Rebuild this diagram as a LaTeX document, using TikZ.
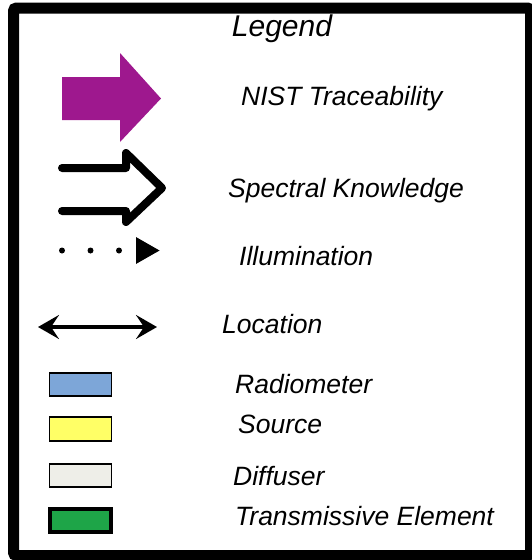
\documentclass[tikz,border=0pt]{standalone}
\usepackage{fontspec}
\setmainfont{Liberation Sans}
\usepackage{xcolor}
\usetikzlibrary{arrows.meta,positioning,calc}
\definecolor{nistpurple}{RGB}{158,24,142}
\definecolor{radioblue}{RGB}{125,166,216}
\definecolor{srcyellow}{RGB}{255,255,102}
\definecolor{diffgrey}{RGB}{238,238,232}
\definecolor{transgreen}{RGB}{30,165,72}

\begin{document}
\begin{tikzpicture}[x=1pt, y=-1pt, font=\fontsize{26.5}{30}\selectfont\itshape]
  \tikzset{lbl/.style={anchor=base west, inner sep=0pt},
           swatch/.style={draw, line width=1.6pt, minimum width=62pt, minimum height=23pt, inner sep=0pt}}
  \useasboundingbox (0,0) rectangle (531,560);
  % frame
  \draw[line width=11pt, rounded corners=3pt] (13.5,8) rectangle (530.5,555.5);
  \node[lbl, anchor=base, font=\fontsize{30}{34}\selectfont\itshape] (title) at (282,36) {Legend};
  % NIST traceability: filled arrow
  \fill[nistpurple] (62,77) -- (120,77) -- (120,53) -- (161,98.5) -- (120,142) -- (120,120) -- (62,120) -- cycle;
  \node[lbl] (nist) at (241,105) {NIST Traceability};
  % spectral knowledge: open arrow
  \draw[line width=8pt, line cap=round, line join=round]
    (62,168) -- (126,168) -- (126,153) -- (162,188) -- (126,222) -- (126,211) -- (62,211);
  \node[lbl] (spec) at (228,197) {Spectral Knowledge};
  % illumination: dotted arrow
  \coordinate (illumL) at (62,250.5);
  \coordinate (illumR) at (160,250.5);
  \draw[line width=6pt, line cap=round, dash pattern=on 0pt off 28.5pt,
        -{Triangle[length=24pt 0, width=25pt 0]}] (illumL) -- (illumR);
  \node[lbl] (illum) at (239,265) {Illumination};
  % location: double arrow
  \coordinate (locL) at (38,327);
  \coordinate (locR) at (157,327);
  \draw[line width=4pt, {Stealth[length=21pt 0, width=24pt 0, inset=8pt 0]}-{Stealth[length=21pt 0, width=24pt 0, inset=8pt 0]}] (locL) -- (locR);
  \node[lbl] (loc) at (222,333) {Location};
  % element colours
  \node[swatch, fill=radioblue] (radio) at (80.5,384.5) {};
  \node[lbl] (radiotxt) at (235,393) {Radiometer};
  \node[swatch, fill=srcyellow, minimum height=24pt] (src) at (80.5,429) {};
  \node[lbl] (srctxt) at (238,433) {Source};
  \node[swatch, fill=diffgrey] (diff) at (80.5,475.5) {};
  \node[lbl] (difftxt) at (233,485) {Diffuser};
  \node[swatch, fill=transgreen, line width=4pt, minimum width=61pt, minimum height=23pt] (trans) at (80,520.5) {};
  \node[lbl] (transtxt) at (235,525) {Transmissive Element};
\end{tikzpicture}
\end{document}
